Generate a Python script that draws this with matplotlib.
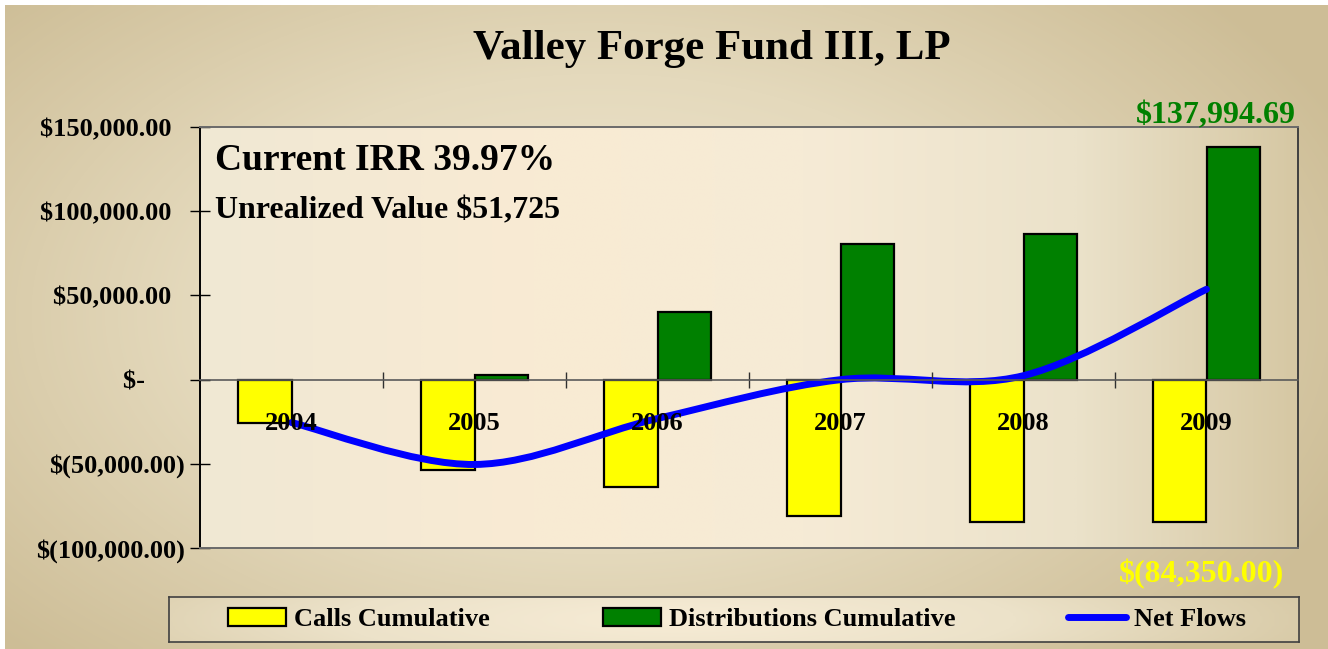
import numpy as np
import matplotlib.pyplot as plt
from matplotlib.path import Path
from matplotlib.patches import PathPatch, Patch
from matplotlib.lines import Line2D
from matplotlib.colors import LinearSegmentedColormap
from matplotlib.ticker import FuncFormatter

plt.rcParams['font.family'] = ['Liberation Serif', 'DejaVu Serif']
plt.rcParams['font.weight'] = 'bold'

# data
years = ['2004', '2005', '2006', '2007', '2008', '2009']
calls = [-25500, -53400, -63500, -80800, -84350, -84350]
distributions = [0, 3000, 40400, 80760, 86700, 137994.69]
net_flows = [-25500, -50400, -23100, -40, 2350, 53644.69]

title = 'Valley Forge Fund III, LP'
irr_text = 'Current IRR 39.97%'
unrealized_text = 'Unrealized Value $51,725'
top_label = '$137,994.69'
bottom_label = '$(84,350.00)'

W, H = 1328, 649
fig = plt.figure(figsize=(W / 100, H / 100), dpi=100)
fig.patch.set_facecolor('white')

# figure background gradient (tan, lighter in the middle)
bg = fig.add_axes([5 / W, 0, 1 - 5 / W, 1 - 5 / H], zorder=-10)
gx, gy = np.meshgrid(np.linspace(0, 1, 400), np.linspace(0, 1, 200))
r = np.sqrt(((gx - 0.45) / 0.62) ** 2 + ((gy - 0.48) / 0.75) ** 2)
bg_cmap = LinearSegmentedColormap.from_list('bg', ['#f2e9d3', '#e4d9bc', '#cdbd96'])
bg.imshow(np.clip(r, 0, 1), cmap=bg_cmap, aspect='auto', extent=[0, 1, 0, 1],
          vmin=0, vmax=1, interpolation='bilinear')
bg.set_axis_off()

ax = fig.add_axes([200 / W, 1 - 548 / H, 1098 / W, 421 / H])
x = np.arange(len(years))
w = 0.295

# plot area gradient, mostly left to right
ax.set_xlim(-0.5, len(years) - 0.5)
ax.set_ylim(-100000, 150000)
px = np.linspace(0, 1, 400)[None, :].repeat(100, axis=0)
pa_cmap = LinearSegmentedColormap.from_list(
    'pa', [(0, '#f0e8d4'), (0.3, '#f9ebd3'), (0.55, '#f6ebd6'),
           (0.8, '#ebe2ca'), (1, '#d6c8a4')])
ax.imshow(px, cmap=pa_cmap, aspect='auto',
          extent=[-0.5, len(years) - 0.5, -100000, 150000],
          vmin=0, vmax=1, interpolation='bilinear', zorder=0)

dist_h = np.array(distributions, dtype=float)
dist_h[dist_h == 0] = np.nan
ax.bar(x - w / 2, calls, w, color='#ffff00', edgecolor='black', linewidth=1.6, zorder=2)
ax.bar(x + w / 2, dist_h, w, color='#008000', edgecolor='black', linewidth=1.6, zorder=2)

# smoothed net flows line (cubic bezier through the points)
pts = np.column_stack([x, net_flows]).astype(float)
n = len(pts)
verts = [pts[0]]
codes = [Path.MOVETO]
for i in range(n - 1):
    p0 = pts[max(i - 1, 0)]
    p1 = pts[i]
    p2 = pts[i + 1]
    p3 = pts[min(i + 2, n - 1)]
    verts += [p1 + (p2 - p0) / 6, p2 - (p3 - p1) / 6, p2]
    codes += [Path.CURVE4] * 3
ax.add_patch(PathPatch(Path(verts, codes), fill=False, edgecolor='#0000ff',
                       linewidth=5, capstyle='round', zorder=3))


def acct(v, pos):
    if v == 0:
        return '$-      '
    if v < 0:
        return '$({:,.2f})'.format(-v)
    return '${:,.2f}  '.format(v)


ax.set_yticks(np.arange(-100000, 150001, 50000))
ax.yaxis.set_major_formatter(FuncFormatter(acct))
ax.tick_params(axis='y', direction='inout', length=14, width=1, pad=4, labelsize=19)
ax.set_xticks([])
for s in ['top', 'bottom']:
    ax.spines[s].set_color('#6a6a6a')
ax.spines['right'].set_color('#404040')
ax.spines['left'].set_color('black')
for s in ax.spines.values():
    s.set_linewidth(1.4)

# category axis running along zero
sec = ax.secondary_xaxis(0.4)
sec.set_zorder(10)
sec.spines['bottom'].set_color('#5a5a5a')
sec.spines['bottom'].set_linewidth(1.2)
sec.set_xticks(x[:-1] + 0.5, labels=[''] * (len(years) - 1))
sec.set_xticks(x, labels=years, minor=True)
sec.tick_params(which='major', direction='inout', length=12, width=1, color='#303030')
sec.tick_params(which='minor', length=0, pad=23, labelsize=19)

ax.text(0.014, 0.92, irr_text, transform=ax.transAxes, fontsize=27,
        va='center', ha='left', zorder=6)
ax.text(0.014, 0.80, unrealized_text, transform=ax.transAxes, fontsize=23,
        va='center', ha='left', zorder=6)

fig.text(0.536, 0.925, title, ha='center', va='center', fontsize=31)
fig.text(1296 / W, 1 - 123 / H, top_label, ha='right', va='baseline',
         fontsize=23, color='#008000')
fig.text(1284 / W, 1 - 582 / H, bottom_label, ha='right', va='baseline',
         fontsize=23, color='#ffff00')

# legend box with its own gradient
lg = fig.add_axes([169 / W, 1 - 642 / H, 1130 / W, 45 / H], zorder=5)
lx, ly = np.meshgrid(np.linspace(0, 1, 400), np.linspace(0, 1, 40))
lr = np.sqrt(((lx - 0.45) / 0.6) ** 2 + ((ly - 0.5) / 2.0) ** 2)
lg_cmap = LinearSegmentedColormap.from_list('lg', ['#f7ecd6', '#ece2c9', '#d6c8a4'])
lg.imshow(np.clip(lr, 0, 1), cmap=lg_cmap, aspect='auto', extent=[0, 1, 0, 1],
          vmin=0, vmax=1, interpolation='bilinear')
lg.set_xticks([])
lg.set_yticks([])
for s in lg.spines.values():
    s.set_color('#404040')
    s.set_linewidth(1.2)

handles = [Patch(facecolor='#ffff00', edgecolor='black', linewidth=1.6),
           Patch(facecolor='#008000', edgecolor='black', linewidth=1.6),
           Line2D([], [], color='#0000ff', linewidth=5, solid_capstyle='round')]
labels = ['Calls Cumulative', 'Distributions Cumulative', 'Net Flows']
lg.legend(handles, labels, ncol=3, mode='expand', loc='center',
          bbox_to_anchor=(59 / 1130, 0, 1018 / 1130, 1), frameon=False,
          fontsize=19, handlelength=2.2, handleheight=0.65, handletextpad=0.3,
          borderaxespad=0, borderpad=0)

fig.savefig('out.png', dpi=100)
